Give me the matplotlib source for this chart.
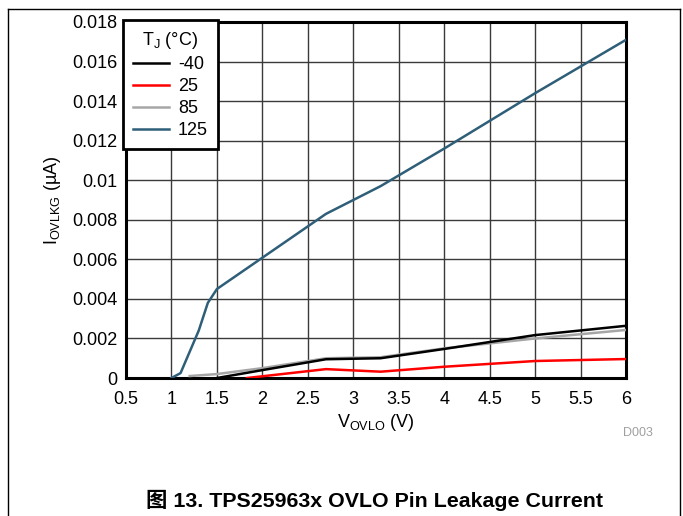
import matplotlib
matplotlib.use("Agg")
import matplotlib.pyplot as plt
from matplotlib.lines import Line2D

plt.rcParams['font.family'] = ['Liberation Sans', 'Noto Sans CJK SC', 'DejaVu Sans']
plt.rcParams['mathtext.fontset'] = 'custom'
plt.rcParams['mathtext.rm'] = 'Liberation Sans'

# data
v_m40 = [1.5, 2.0, 2.7, 3.3, 4.0, 5.0, 6.0]
i_m40 = [0.0, 0.0004, 0.00095, 0.001, 0.00147, 0.00217, 0.00264]

v_25 = [1.83, 2.7, 3.3, 4.0, 5.0, 6.0]
i_25 = [0.0, 0.00045, 0.00032, 0.00057, 0.00086, 0.00096]

v_85 = [1.2, 1.5, 2.0, 2.7, 3.3, 4.0, 5.0, 6.0]
i_85 = [0.0001, 0.0002, 0.0005, 0.001, 0.00105, 0.0015, 0.002, 0.00243]

v_125 = [1.0, 1.1, 1.3, 1.4, 1.5, 2.7, 3.3, 4.0, 5.0, 6.0]
i_125 = [0.0, 0.00025, 0.0024, 0.0038, 0.0045, 0.0083, 0.0097, 0.0116, 0.0144, 0.0171]

x_ticks = [0.5, 1, 1.5, 2, 2.5, 3, 3.5, 4, 4.5, 5, 5.5, 6]
x_labels = ["0.5", "1", "1.5", "2", "2.5", "3", "3.5", "4", "4.5", "5", "5.5", "6"]
y_ticks = [0, 0.002, 0.004, 0.006, 0.008, 0.01, 0.012, 0.014, 0.016, 0.018]
y_labels = ["0", "0.002", "0.004", "0.006", "0.008", "0.01", "0.012", "0.014", "0.016", "0.018"]

fig = plt.figure(figsize=(6.83, 5.16), dpi=100)
ax = fig.add_axes([0.1845, 0.2674, 0.7321, 0.69])

ax.plot(v_m40, i_m40, color="black", lw=1.8, label="-40", zorder=4)
ax.plot(v_25, i_25, color="#ff0000", lw=1.8, label="25", zorder=4)
ax.plot(v_85, i_85, color="#a6a6a6", lw=1.8, label="85", zorder=3)
ax.plot(v_125, i_125, color="#2f5f78", lw=1.8, label="125", zorder=4)

ax.set_xlim(0.5, 6)
ax.set_ylim(0, 0.018)
ax.set_xticks(x_ticks)
ax.set_xticklabels(x_labels)
ax.set_yticks(y_ticks)
ax.set_yticklabels(y_labels)
ax.tick_params(axis="x", length=0, labelsize=13, pad=9)
ax.tick_params(axis="y", length=0, labelsize=13, pad=6)
ax.grid(True, color="#3a3a3a", lw=1.0)
ax.set_axisbelow(True)
for s in ax.spines.values():
    s.set_linewidth(2.2)
    s.set_color("black")

ax.set_xlabel("V$_\\mathrm{OVLO}$ (V)", fontsize=13, labelpad=3)
ax.set_ylabel("I$_\\mathrm{OVLKG}$ (\u00b5A)", fontsize=13, labelpad=7)

leg = ax.legend(title="T$_\\mathrm{J}$ (\u00b0C)", loc="upper left", fontsize=13,
                title_fontsize=13, fancybox=False, framealpha=1, edgecolor="black",
                bbox_to_anchor=(-0.006, 1.006), borderaxespad=0,
                handlelength=2.0, handletextpad=0.5,
                labelspacing=0.28, borderpad=0.55)
leg.get_frame().set_linewidth(2.0)
leg.set_zorder(10)

fig.text(0.956, 0.156, "D003", color="#a0a0a0", fontsize=9, ha="right")
fig.text(0.549, 0.018, "\u56fe 13. TPS25963x OVLO Pin Leakage Current",
         fontsize=15.4, fontweight="bold", ha="center")

# page frame
fig.add_artist(Line2D([0.0117, 0.0117], [0, 0.9826], color="black", lw=1.0))
fig.add_artist(Line2D([0.9956, 0.9956], [0, 0.9826], color="black", lw=1.0))
fig.add_artist(Line2D([0.0117, 0.9956], [0.9826, 0.9826], color="black", lw=1.0))

plt.savefig("out.png", dpi=100)
